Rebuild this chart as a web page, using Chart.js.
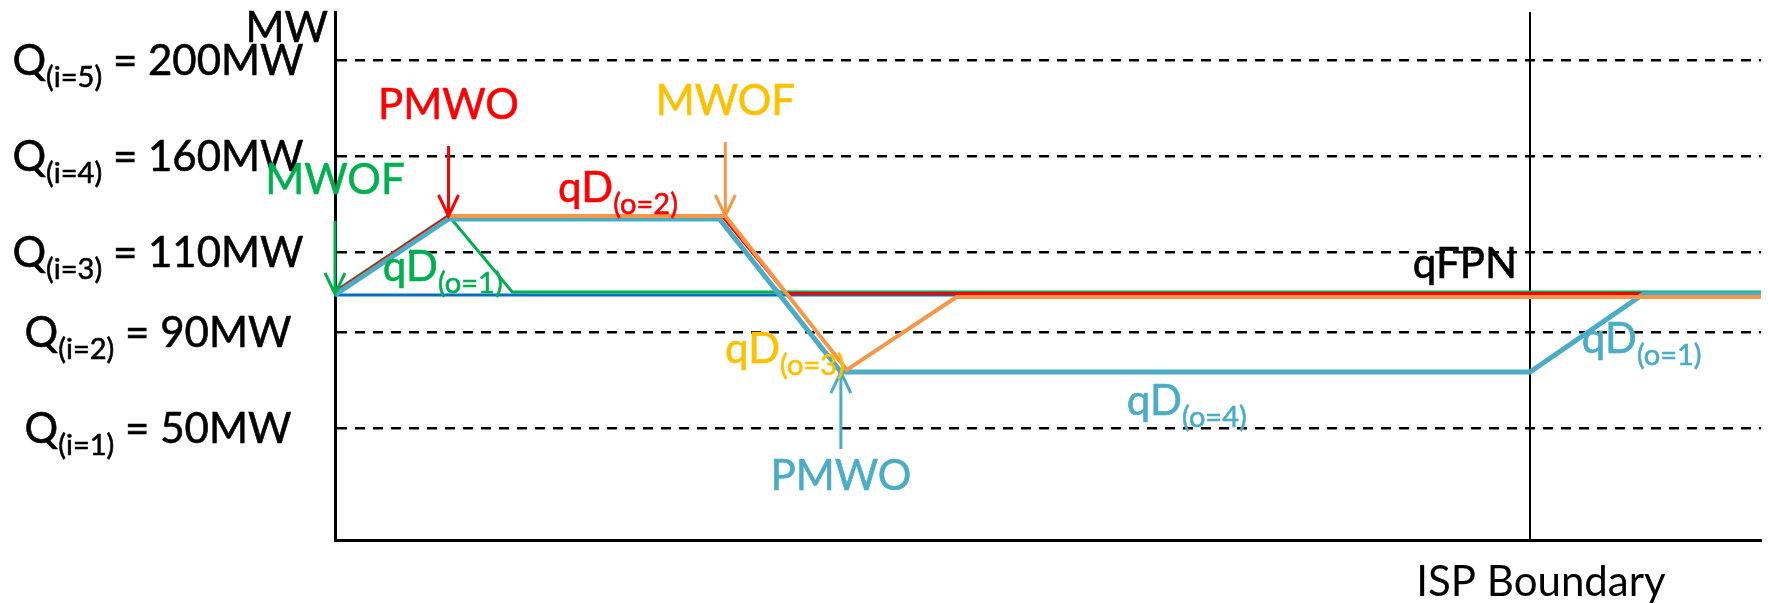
<!DOCTYPE html>
<html>
<head>
<meta charset="utf-8">
<title>qD instructions across an ISP</title>
<script src="https://cdn.jsdelivr.net/npm/chart.js@4.4.0/dist/chart.umd.min.js"></script>
<style>
  html, body { margin: 0; padding: 0; background: #fff; }
  canvas { display: block; }
</style>
</head>
<body>
<canvas id="qd-chart" width="1768" height="603"></canvas>
<script>
// Q(i) levels, MW
const levelIndex = [1, 2, 3, 4, 5];
const levelMW = [50, 90, 110, 160, 200];

// time in minutes, the ISP boundary sits at 30
const ispBoundary = 30;

// qFPN
const fpnTime = [0, 35.8];
const fpnMW = [99.25, 99.25];

// qD(o=1), green
const o1Time = [0, 2.85, 4.45, 35.8];
const o1MW = [100.2, 129, 100, 100];

// qD(o=2), red
const o2Time = [0, 2.85, 9.72, 11.33, 35.8];
const o2MW = [99.9, 128.75, 128.75, 99.6, 99.6];

// qD(o=3), orange
const o3Time = [2.85, 9.8, 12.85, 15.6, 35.8];
const o3MW = [128.75, 128.75, 74.2, 98.75, 98.75];

// qD(o=4) then qD(o=1) after the boundary, light blue
const o4Time = [0, 2.85, 9.65, 12.7, 30, 32.85, 35.8];
const o4MW = [99.3, 127.2, 127.2, 73.3, 73.3, 99.5, 99.5];

const FONT = 'Lato, "Open Sans", sans-serif';
const BIG = 42, SMALL = 29;

// the MW axis of the sketch is not linear: every band between levels has its own height
const bandMW = [0, 50, 90, 110, 160, 200, 220];
const bandHeight = [0, 112, 208, 288, 384, 480, 528];

class BandScale extends Chart.LinearScale {
    static id = 'band';
    static defaults = Chart.LinearScale.defaults;

    toDecimal(v) {
        const last = bandMW.length - 1;
        for (let i = 1; i <= last; i++) {
            if (v <= bandMW[i] || i === last) {
                const f = (v - bandMW[i - 1]) / (bandMW[i] - bandMW[i - 1]);
                return (bandHeight[i - 1] + f * (bandHeight[i] - bandHeight[i - 1])) / bandHeight[last];
            }
        }
    }
    getPixelForValue(value) {
        if (value === null || value === undefined) return NaN;
        return this.getPixelForDecimal(this.toDecimal(value));
    }
    getValueForPixel(pixel) {
        const h = this.getDecimalForPixel(pixel) * bandHeight[bandHeight.length - 1];
        for (let i = 1; i < bandHeight.length; i++) {
            if (h <= bandHeight[i] || i === bandHeight.length - 1) {
                const f = (h - bandHeight[i - 1]) / (bandHeight[i] - bandHeight[i - 1]);
                return bandMW[i - 1] + f * (bandMW[i] - bandMW[i - 1]);
            }
        }
    }
}
Chart.register(BandScale);

const toPoints = (ts, ms) => ts.map((t, i) => ({x: t, y: ms[i]}));

// lower order is drawn on top
const series = [
    {data: toPoints(o3Time, o3MW), color: '#F79646', width: 4, order: 0},
    {data: toPoints(o4Time, o4MW), color: '#4BACC6', width: 5, order: 1},
    {data: toPoints(o2Time, o2MW), color: '#FF0000', width: 3, order: 2},
    {data: toPoints(o1Time, o1MW), color: '#00B050', width: 3, order: 3},
    {data: toPoints(fpnTime, fpnMW), color: '#0070C0', width: 3, order: 4}
];

const arrows = [
    {at: [o2Time[1], o2MW[1]], len: 70, down: true, color: '#FF0000', text: 'PMWO', textColor: '#FF0000'},
    {at: [o3Time[1], o3MW[1]], len: 74, down: true, color: '#F79646', text: 'MWOF', textColor: '#FFC000'},
    {at: [o1Time[0], 99.5], len: 73, down: true, color: '#00B050', text: 'MWOF', textColor: '#00B050'},
    {at: [o4Time[3], o4MW[3]], len: 77, down: false, color: '#4BACC6', text: 'PMWO', textColor: '#4BACC6'}
];

// label anchors: left edge of the text and its baseline, in chart units
const notes = [
    {t: 1.2, mw: 102.75, parts: [['qD'], ['(o=1)', 1]], color: '#00B050'},
    {t: 5.6, mw: 136, parts: [['qD'], ['(o=2)', 1]], color: '#FF0000'},
    {t: 9.79, mw: 77.1, parts: [['qD'], ['(o=3)', 1]], color: '#FFC000'},
    {t: 19.88, mw: 55.4, parts: [['qD'], ['(o=4)', 1]], color: '#4BACC6'},
    {t: 31.3, mw: 81.25, parts: [['qD'], ['(o=1)', 1]], color: '#4BACC6'},
    {t: 27.06, mw: 103.4, parts: [['qFPN']], color: '#000000'}
];

function richText(ctx, parts, x, y, color, align) {
    let w = 0;
    parts.forEach(p => {
        ctx.font = (p[1] ? SMALL : BIG) + 'px ' + FONT;
        w += ctx.measureText(p[0]).width;
    });
    let cx = align === 'center' ? x - w / 2 : align === 'right' ? x - w : x;
    ctx.fillStyle = color;
    ctx.strokeStyle = color;
    ctx.lineWidth = 0.6;
    ctx.textAlign = 'left';
    ctx.textBaseline = 'alphabetic';
    parts.forEach(p => {
        ctx.font = (p[1] ? SMALL : BIG) + 'px ' + FONT;
        const ty = p[1] ? y + 12 : y;
        ctx.fillText(p[0], cx, ty);
        ctx.strokeText(p[0], cx, ty);   // Lato is a little light next to the original
        cx += ctx.measureText(p[0]).width;
    });
}

function drawArrow(ctx, x, tip, len, down, color) {
    const s = down ? -1 : 1;
    ctx.save();
    ctx.strokeStyle = color;
    ctx.lineWidth = 3;
    ctx.beginPath();
    ctx.moveTo(x, tip + s * len);
    ctx.lineTo(x, tip);
    ctx.moveTo(x - 10, tip + s * 21);
    ctx.lineTo(x, tip);
    ctx.lineTo(x + 10, tip + s * 21);
    ctx.stroke();
    ctx.restore();
}

const sketchLabels = {
    id: 'sketchLabels',
    afterDraw(chart) {
        const {ctx, chartArea, scales: {x, y}} = chart;
        ctx.save();

        // Q(i) labels with subscripts
        levelMW.forEach((mw, i) => {
            const py = y.getPixelForValue(mw);
            richText(ctx, [['Q'], ['(i=' + levelIndex[i] + ')', 1], [' = ' + mw + 'MW']], 158, py + 15, '#000', 'center');
        });
        richText(ctx, [['MW']], chartArea.left - 7, chartArea.top + 30, '#000', 'right');

        arrows.forEach(a => {
            const px = x.getPixelForValue(a.at[0]);
            const py = y.getPixelForValue(a.at[1]);
            drawArrow(ctx, px, py, a.len, a.down, a.color);
            const base = a.down ? py - a.len - 27 : py + a.len + 41;
            richText(ctx, [[a.text]], px, base, a.textColor, 'center');
        });

        notes.forEach(n => {
            richText(ctx, n.parts, x.getPixelForValue(n.t), y.getPixelForValue(n.mw), n.color, 'left');
        });
        ctx.restore();
    }
};

new Chart(document.getElementById('qd-chart'), {
    type: 'line',
    data: {
        datasets: series.map(s => ({
            data: s.data,
            borderColor: s.color,
            borderWidth: s.width,
            order: s.order,
            pointRadius: 0,
            tension: 0,
            fill: false,
            borderJoinStyle: 'miter'
        }))
    },
    options: {
        responsive: false,
        animation: false,
        layout: {padding: {left: 335, right: 7, top: 12, bottom: 0}},
        plugins: {legend: {display: false}, tooltip: {enabled: false}},
        scales: {
            x: {
                type: 'linear',
                min: 0,
                max: 35.8,
                afterFit: s => { s.height = 63; },
                afterBuildTicks: s => { s.ticks = [{value: ispBoundary}]; },
                ticks: {
                    callback: () => 'ISP Boundary',
                    color: '#000',
                    font: {family: FONT, size: BIG},
                    padding: 17,
                    labelOffset: 11,
                    maxRotation: 0,
                    autoSkip: false
                },
                grid: {color: '#000', lineWidth: 2, drawTicks: false},
                border: {color: '#000', width: 3}
            },
            y: {
                type: 'band',
                min: 0,
                max: 220,
                afterFit: s => { s.width = 0; },
                afterBuildTicks: s => { s.ticks = levelMW.map(v => ({value: v})); },
                ticks: {display: false},
                grid: {color: '#000', lineWidth: 2.5, drawTicks: false},
                border: {color: '#000', width: 3, dash: [10, 8]}
            }
        }
    },
    plugins: [sketchLabels]
});
</script>
</body>
</html>
